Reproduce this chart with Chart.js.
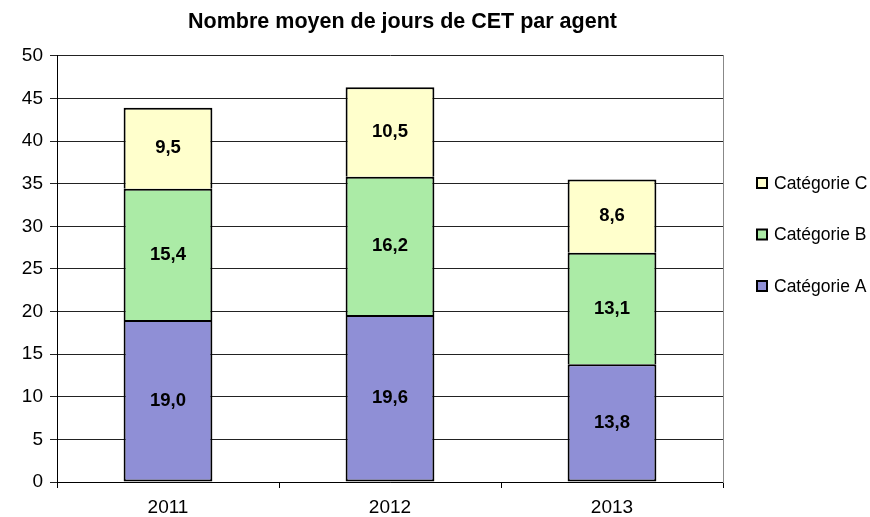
<!DOCTYPE html>
<html>
<head>
<meta charset="utf-8">
<script src="https://cdn.jsdelivr.net/npm/chart.js@4.4.1/dist/chart.umd.min.js"></script>
<style>
  html, body { margin: 0; padding: 0; background: #fff; }
  #wrap { width: 870px; height: 517px; }
</style>
</head>
<body>
<div id="wrap"><canvas id="chart" width="870" height="517"></canvas></div>
<script>
const years = ['2011', '2012', '2013'];
const catA = [19.0, 19.6, 13.8];
const catB = [15.4, 16.2, 13.1];
const catC = [9.5, 10.5, 8.6];
const seriesNames = ['Catégorie A', 'Catégorie B', 'Catégorie C'];
const colours = ['#8f8fd6', '#abeba6', '#ffffcc'];

const FONT = 'Arial, "Liberation Sans", sans-serif';

// valeurs au centre de chaque segment
const valueLabels = {
  id: 'valueLabels',
  afterDatasetsDraw(chart) {
    const ctx = chart.ctx;
    ctx.save();
    ctx.font = 'bold 18.5px ' + FONT;
    ctx.fillStyle = '#000';
    ctx.textAlign = 'center';
    ctx.textBaseline = 'middle';
    chart.data.datasets.forEach((ds, i) => {
      chart.getDatasetMeta(i).data.forEach((bar, j) => {
        const p = bar.getCenterPoint();
        ctx.fillText(ds.data[j].toFixed(1).replace('.', ','), p.x, p.y);
      });
    });
    ctx.restore();
  }
};

// légende à droite, ordre inversé
const sideLegend = {
  id: 'sideLegend',
  afterDraw(chart) {
    const ctx = chart.ctx;
    const area = chart.chartArea;
    const x = area.right + 34;
    const rows = [183, 234.5, 286];
    ctx.save();
    ctx.font = '17.5px ' + FONT;
    ctx.textBaseline = 'middle';
    ctx.textAlign = 'left';
    const n = chart.data.datasets.length;
    for (let k = 0; k < n; k++) {
      const ds = chart.data.datasets[n - 1 - k];
      const y = rows[k];
      ctx.fillStyle = ds.backgroundColor;
      ctx.fillRect(x, y - 5, 10, 10);
      ctx.lineWidth = 2;
      ctx.strokeStyle = '#000';
      ctx.strokeRect(x, y - 5, 10, 10);
      ctx.fillStyle = '#000';
      ctx.fillText(ds.label, x + 17, y + 1);
    }
    ctx.restore();
  }
};

const ctx = document.getElementById('chart');
ctx.chart = new Chart(ctx, {
  type: 'bar',
  data: {
    labels: years,
    datasets: [catA, catB, catC].map((d, i) => ({
      label: seriesNames[i],
      data: d,
      backgroundColor: colours[i],
      borderColor: '#000',
      borderWidth: 2,
      // un seul trait entre deux segments empilés
      borderSkipped: i === 0 ? false : 'start',
      barPercentage: 0.4,
      categoryPercentage: 1
    }))
  },
  plugins: [valueLabels, sideLegend],
  options: {
    responsive: false,
    animation: false,
    layout: { padding: { left: 0, right: 65, top: 0, bottom: 0 } },
    plugins: {
      legend: { display: false },
      tooltip: { enabled: false },
      title: {
        display: true,
        text: 'Nombre moyen de jours de CET par agent',
        color: '#000',
        font: { family: FONT, size: 21.5, weight: 'bold' },
        padding: { top: 9, bottom: 21 }
      }
    },
    scales: {
      x: {
        stacked: true,
        grid: { offset: true, drawOnChartArea: false, tickLength: 6, color: '#000' },
        border: { color: '#000', width: 1 },
        ticks: { color: '#000', font: { family: FONT, size: 19 }, padding: 8 },
        afterFit(scale) { scale.height = 35; }
      },
      y: {
        stacked: true,
        min: 0,
        max: 50,
        ticks: { stepSize: 5, color: '#000', font: { family: FONT, size: 19 }, padding: 7 },
        grid: { color: '#222', tickLength: 7 },
        border: { color: '#000', width: 1 },
        afterFit(scale) { scale.width = 57; }
      },
      y2: {
        position: 'right',
        min: 0,
        max: 50,
        grid: { drawOnChartArea: false, drawTicks: false },
        ticks: { display: false },
        border: { color: '#888', width: 1 },
        afterFit(scale) { scale.width = 82; }
      }
    }
  }
});
</script>
</body>
</html>
